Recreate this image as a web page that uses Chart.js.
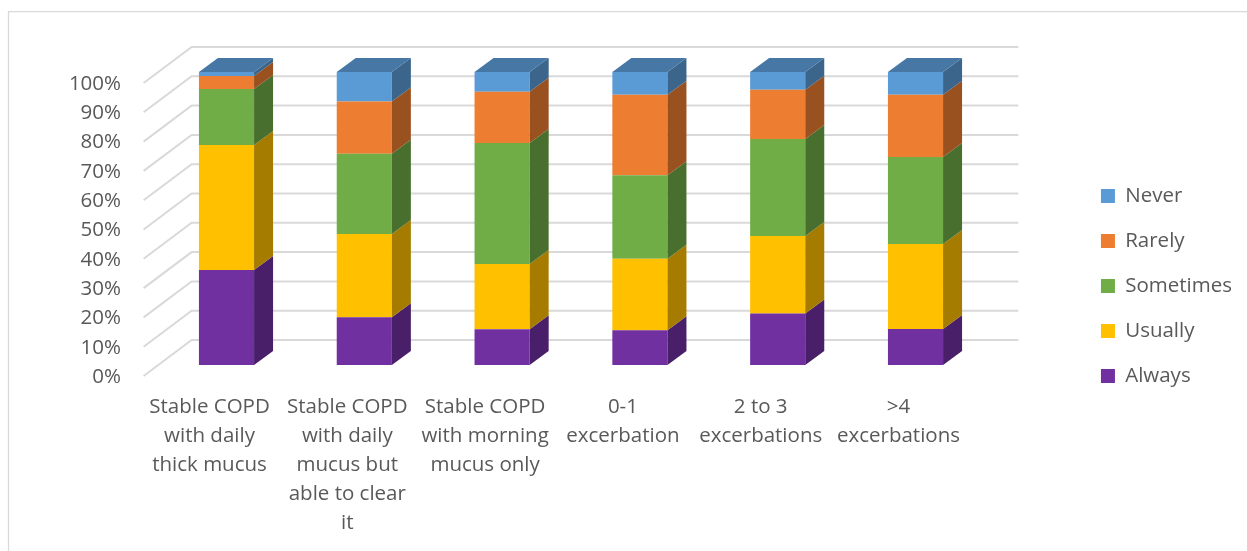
<!DOCTYPE html>
<html>
<head>
<meta charset="utf-8">
<title>Mucus clearance frequency by COPD group</title>
<script src="https://cdn.jsdelivr.net/npm/chart.js@4.4.1/dist/chart.umd.min.js"></script>
<style>
  html, body { margin: 0; padding: 0; background: #ffffff; }
  canvas { display: block; }
</style>
</head>
<body>
<canvas id="chart" width="1247" height="551"></canvas>
<script>
// ---- data ----
const categories = [
  ['Stable COPD', 'with daily', 'thick mucus'],
  ['Stable COPD', 'with daily', 'mucus but', 'able to clear', 'it'],
  ['Stable COPD', 'with morning', 'mucus only'],
  ['0-1', 'excerbation'],
  ['2 to 3', 'excerbations'],
  ['>4', 'excerbations']
];
const seriesNames = ['Always', 'Usually', 'Sometimes', 'Rarely', 'Never'];
const always    = [32.4, 16.3, 12.2, 11.9, 17.6, 12.3];
const usually   = [42.7, 28.4, 22.3, 24.4, 26.4, 29.0];
const sometimes = [19.1, 27.4, 41.3, 28.5, 33.1, 29.7];
const rarely    = [ 4.4, 17.8, 17.5, 27.4, 16.8, 21.2];
const never     = [ 1.4, 10.1,  6.7,  7.8,  6.1,  7.8];
const percentTicks = [0, 10, 20, 30, 40, 50, 60, 70, 80, 90, 100];

// ---- styling ----
const faceColors = ['#7030A0', '#FFC000', '#70AD47', '#ED7D31', '#5B9BD5'];
const sideColors = ['#481F68', '#A67C00', '#486F2D', '#99511F', '#3B658B'];
const topColor = '#4677A5';
const textColor = '#595959';
const gridColor = '#d9d9d9';
const FONT = "'Open Sans', 'DejaVu Sans', sans-serif";

// 3D offsets relative to the plane of the bar fronts
const FRONT = { dx: -14, dy: 11 };   // front edge of the floor
const BACK  = { dx: 34,  dy: -25 };  // back wall
const BAR   = { dx: 19,  dy: -14 };  // depth of each column

// layout targets for the plot area
const PLOT_LEFT = 157.6;
const PLOT_RIGHT = 984.4;
const PAD_RIGHT = 5;

const values = [always, usually, sometimes, rarely, never];

const threeD = {
  id: 'threeD',
  beforeDraw(chart) {
    const { ctx, width, height } = chart;
    ctx.save();
    ctx.strokeStyle = gridColor;
    ctx.lineWidth = 1.25;
    ctx.beginPath();
    ctx.moveTo(8.5, height + 2);
    ctx.lineTo(8.5, 11.5);
    ctx.lineTo(width + 2, 11.5);
    ctx.stroke();
    ctx.restore();
  },
  beforeDatasetsDraw(chart) {
    const { ctx, chartArea, scales } = chart;
    const y = scales.y;
    ctx.save();
    ctx.strokeStyle = gridColor;
    ctx.lineWidth = 2;
    y.ticks.forEach(t => {
      const py = y.getPixelForValue(t.value);
      ctx.beginPath();
      ctx.moveTo(chartArea.left + FRONT.dx, py + FRONT.dy);
      ctx.lineTo(chartArea.left + BACK.dx, py + BACK.dy);
      ctx.lineTo(chartArea.right + BACK.dx, py + BACK.dy);
      ctx.stroke();
    });
    ctx.restore();
  },
  afterDatasetsDraw(chart) {
    const { ctx } = chart;
    const last = chart.data.datasets.length - 1;
    ctx.save();
    chart.data.datasets.forEach((ds, i) => {
      const meta = chart.getDatasetMeta(i);
      meta.data.forEach(bar => {
        const { x, y, base, width } = bar.getProps(['x', 'y', 'base', 'width'], true);
        const l = x - width / 2, r = x + width / 2;
        // right side face
        ctx.fillStyle = sideColors[i];
        ctx.beginPath();
        ctx.moveTo(r, y);
        ctx.lineTo(r + BAR.dx, y + BAR.dy);
        ctx.lineTo(r + BAR.dx, base + BAR.dy);
        ctx.lineTo(r, base);
        ctx.closePath();
        ctx.fill();
        // lid on the top segment
        if (i === last) {
          ctx.fillStyle = topColor;
          ctx.beginPath();
          ctx.moveTo(l, y);
          ctx.lineTo(l + BAR.dx, y + BAR.dy);
          ctx.lineTo(r + BAR.dx, y + BAR.dy);
          ctx.lineTo(r, y);
          ctx.closePath();
          ctx.fill();
        }
      });
    });
    ctx.restore();
  }
};

Chart.defaults.font.family = FONT;
Chart.defaults.color = textColor;

// empty spacer axes used only to reserve room around the plot
const spacer = (position, fit) => ({
  position,
  display: true,
  grid: { display: false, drawTicks: false },
  border: { display: false },
  ticks: { display: false },
  afterFit: fit
});

new Chart(document.getElementById('chart'), {
  type: 'bar',
  data: {
    labels: categories,
    datasets: seriesNames.map((name, i) => ({
      label: name,
      data: values[i],
      backgroundColor: faceColors[i],
      borderWidth: 0,
      barPercentage: 0.4,
      categoryPercentage: 1.0
    }))
  },
  options: {
    responsive: false,
    devicePixelRatio: 1,
    animation: false,
    layout: { padding: { top: 21, bottom: 0, left: 0, right: PAD_RIGHT } },
    plugins: {
      tooltip: { enabled: false },
      legend: {
        position: 'right',
        reverse: true,
        labels: {
          boxWidth: 14,
          boxHeight: 14,
          padding: 24.5,
          color: textColor,
          font: { family: FONT, size: 20.5 }
        }
      }
    },
    scales: {
      x: {
        stacked: true,
        grid: { display: false, drawTicks: false },
        border: { display: false },
        ticks: {
          autoSkip: false,
          maxRotation: 0,
          minRotation: 0,
          padding: 27.5,
          labelOffset: -17,
          color: textColor,
          font: { family: FONT, size: 20.5, lineHeight: 29 / 20.5 }
        },
        afterFit(s) { s.height = 186; }
      },
      y: {
        stacked: true,
        min: 0,
        max: 100,
        grid: { display: false, drawTicks: false },
        border: { display: false },
        afterBuildTicks(s) { s.ticks = percentTicks.map(v => ({ value: v })); },
        ticks: {
          padding: PLOT_LEFT - 121,
          labelOffset: 12,
          color: textColor,
          font: { family: FONT, size: 20.5 },
          callback: v => v + '%'
        },
        afterFit(s) { s.width = PLOT_LEFT; }
      },
      gapTop: spacer('top', s => { s.height = 51; }),
      gapRight: spacer('right', s => {
        const c = s.chart;
        const legendLeft = c.width - PAD_RIGHT - (c.legend ? c.legend.width : 0);
        s.width = Math.max(0, legendLeft - PLOT_RIGHT);
      })
    }
  },
  plugins: [threeD]
});
</script>
</body>
</html>
